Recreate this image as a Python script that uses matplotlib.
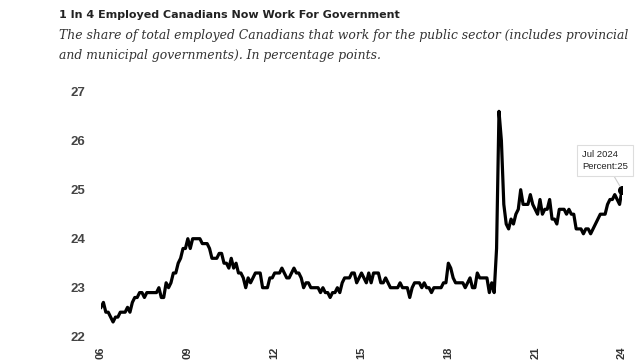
import matplotlib
matplotlib.use("Agg")
import matplotlib.pyplot as plt

# Public sector share of employed Canadians, monthly Jul 2006 - Jul 2024
share = [
    22.6, 22.7, 22.5, 22.5, 22.4, 22.3, 22.4, 22.4, 22.5, 22.5, 22.5, 22.6,
    22.5, 22.7, 22.8, 22.8, 22.9, 22.9, 22.8, 22.9, 22.9, 22.9, 22.9, 22.9,
    23.0, 22.8, 22.8, 23.1, 23.0, 23.1, 23.3, 23.3, 23.5, 23.6, 23.8, 23.8,
    24.0, 23.8, 24.0, 24.0, 24.0, 24.0, 23.9, 23.9, 23.9, 23.8, 23.6, 23.6,
    23.6, 23.7, 23.7, 23.5, 23.5, 23.4, 23.6, 23.4, 23.5, 23.3, 23.3, 23.2,
    23.0, 23.2, 23.1, 23.2, 23.3, 23.3, 23.3, 23.0, 23.0, 23.0, 23.2, 23.2,
    23.3, 23.3, 23.3, 23.4, 23.3, 23.2, 23.2, 23.3, 23.4, 23.3, 23.3, 23.2,
    23.0, 23.1, 23.1, 23.0, 23.0, 23.0, 23.0, 22.9, 23.0, 22.9, 22.9, 22.8,
    22.9, 22.9, 23.0, 22.9, 23.1, 23.2, 23.2, 23.2, 23.3, 23.3, 23.1, 23.2,
    23.3, 23.2, 23.1, 23.3, 23.1, 23.3, 23.3, 23.3, 23.1, 23.1, 23.2, 23.1,
    23.0, 23.0, 23.0, 23.0, 23.1, 23.0, 23.0, 23.0, 22.8, 23.0, 23.1, 23.1,
    23.1, 23.0, 23.1, 23.0, 23.0, 22.9, 23.0, 23.0, 23.0, 23.0, 23.1, 23.1,
    23.5, 23.4, 23.2, 23.1, 23.1, 23.1, 23.1, 23.0, 23.1, 23.2, 23.0, 23.0,
    23.3, 23.2, 23.2, 23.2, 23.2, 22.9, 23.1, 22.9, 23.8, 26.6, 26.0, 24.7,
    24.3, 24.2, 24.4, 24.3, 24.5, 24.6, 25.0, 24.7, 24.7, 24.7, 24.9, 24.7,
    24.6, 24.5, 24.8, 24.5, 24.6, 24.6, 24.8, 24.4, 24.4, 24.3, 24.6, 24.6,
    24.6, 24.5, 24.6, 24.5, 24.5, 24.2, 24.2, 24.2, 24.1, 24.2, 24.2, 24.1,
    24.2, 24.3, 24.4, 24.5, 24.5, 24.5, 24.7, 24.8, 24.8, 24.9, 24.8, 24.7,
    25.0,
]
year_labels = ["06", "09", "12", "15", "18", "21", "24"]
y_ticks = [22, 23, 24, 25, 26, 27]
last_label = "Jul 2024"

W, H = 643, 362
fig = plt.figure(figsize=(W / 100, H / 100), dpi=100)
ax = fig.add_axes([101 / W, 1 - 336.7 / H, 521 / W, 245 / H])

months = list(range(len(share)))
ax.plot(months, share, color="black", lw=2.3, solid_joinstyle="round", zorder=3)
ax.plot(months[-1], share[-1], "o", color="black", ms=5.5, zorder=4)

ax.set_xlim(0, len(share) - 1)
ax.set_ylim(22, 27)
ax.set_xticks(months[::36])
ax.set_xticklabels(year_labels, rotation=90, fontsize=8, fontweight="bold",
                   color="#333333", family="Liberation Sans")
ax.set_yticks(y_ticks)
ax.set_yticklabels([str(v) for v in y_ticks], fontsize=9.5, fontweight="bold",
                   color="#444444", family="Liberation Sans")
ax.tick_params(axis="x", length=0, pad=7)
ax.tick_params(axis="y", length=0, pad=11)
for s in ax.spines.values():
    s.set_visible(False)
ax.set_facecolor("white")

# tooltip on last point
ax.annotate(f"{last_label}\nPercent:{share[-1]:g}", xy=(months[-1], share[-1]),
            xytext=(-40, 29), textcoords="offset pixels", ha="left", va="center",
            fontsize=6.8, family="Liberation Sans", color="#222222", linespacing=1.5,
            bbox=dict(boxstyle="square,pad=0.5", fc="white", ec="#dddddd", lw=0.8),
            arrowprops=dict(arrowstyle="-", color="#cccccc", lw=0.8,
                            shrinkA=0, shrinkB=3), zorder=5)

fig.text(59 / W, 1 - 15 / H, "1 In 4 Employed Canadians Now Work For Government",
         fontsize=8, fontweight="bold", color="#222222", va="center",
         family="DejaVu Sans")
fig.text(59 / W, 1 - 36 / H,
         "The share of total employed Canadians that work for the public sector (includes provincial",
         fontsize=8.9, style="italic", color="#333333", va="center", family="DejaVu Serif")
fig.text(59 / W, 1 - 56 / H, "and municipal governments). In percentage points.",
         fontsize=8.9, style="italic", color="#333333", va="center", family="DejaVu Serif")

fig.savefig("out.png", dpi=100, facecolor="white")
